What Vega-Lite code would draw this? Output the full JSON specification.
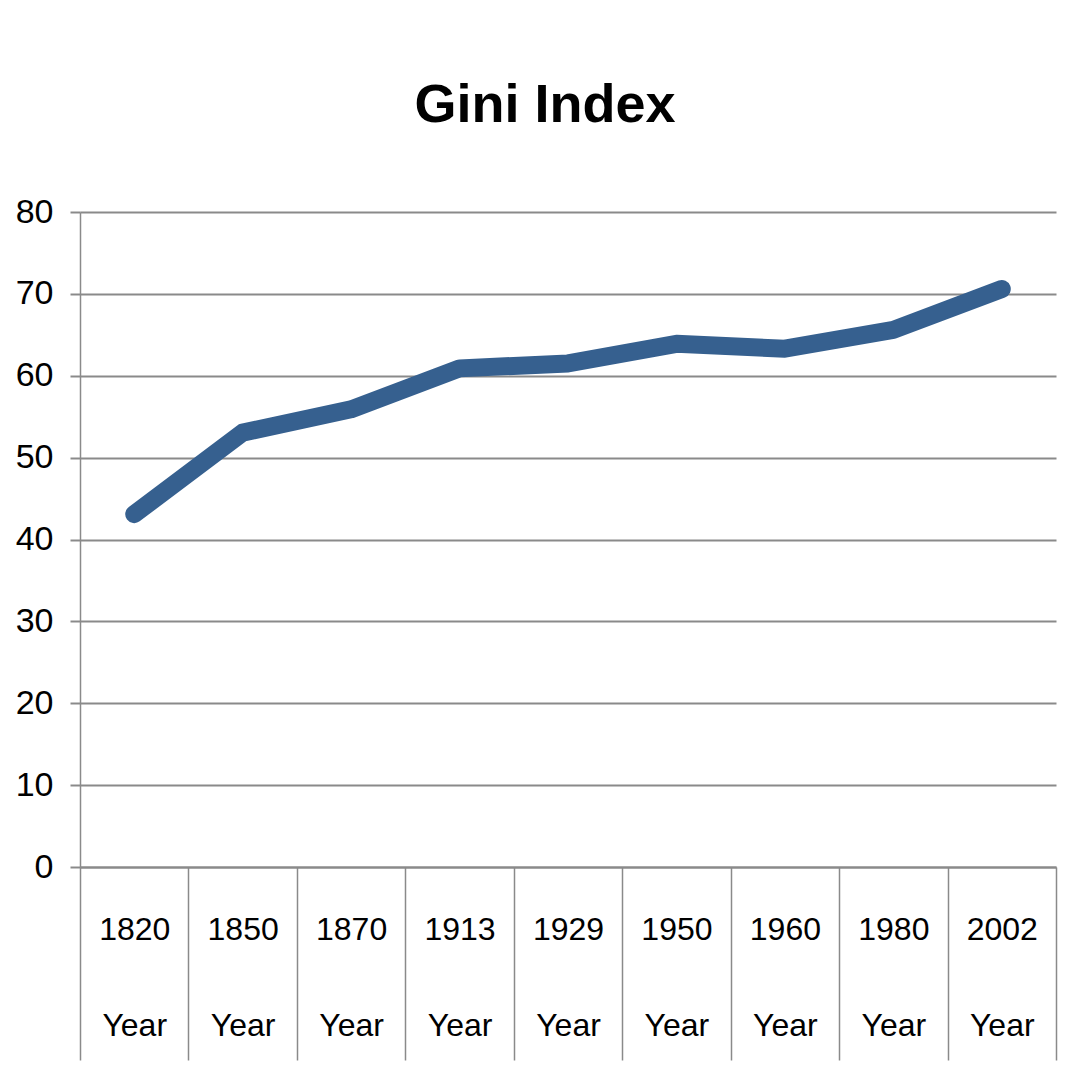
{
  "$schema": "https://vega.github.io/schema/vega-lite/v6.json",
  "autosize": "none",
  "width": 976,
  "height": 655,
  "padding": {"left": 80, "top": 212, "right": 31, "bottom": 218},
  "background": "white",
  "title": {
    "text": "Gini Index",
    "fontSize": 54,
    "fontWeight": "bold",
    "font": "Liberation Sans, Arial, sans-serif",
    "color": "black",
    "anchor": "middle",
    "dx": -23,
    "offset": 62
  },
  "data": {
    "values": [
      {"year": "1820", "gini": 43.1},
      {"year": "1850", "gini": 53.05},
      {"year": "1870", "gini": 55.9},
      {"year": "1913", "gini": 60.9},
      {"year": "1929", "gini": 61.5},
      {"year": "1950", "gini": 63.9},
      {"year": "1960", "gini": 63.3},
      {"year": "1980", "gini": 65.6},
      {"year": "2002", "gini": 70.6}
    ]
  },
  "mark": {
    "type": "line",
    "color": "#36608F",
    "strokeWidth": 18,
    "strokeCap": "round",
    "strokeJoin": "round"
  },
  "encoding": {
    "x": {
      "field": "year",
      "type": "ordinal",
      "sort": null,
      "bandPosition": 0.5,
      "scale": {"type": "band", "paddingInner": 0, "paddingOuter": 0},
      "axis": {
        "title": null,
        "labelAngle": 0,
        "tickBand": "extent",
        "tickSize": 193,
        "tickColor": "#8a8a8a",
        "tickWidth": 1.5,
        "domainColor": "#8a8a8a",
        "domainWidth": 2,
        "labelFontSize": 32,
        "labelColor": "black",
        "labelFont": "Liberation Sans, Arial, sans-serif",
        "labelLineHeight": 96,
        "labelPadding": -146,
        "labelExpr": "datum.label ? [datum.label, 'Year'] : ''",
        "grid": false
      }
    },
    "y": {
      "field": "gini",
      "type": "quantitative",
      "scale": {"domain": [0, 80]},
      "axis": {
        "title": null,
        "values": [0, 10, 20, 30, 40, 50, 60, 70, 80],
        "grid": true,
        "gridColor": "#8a8a8a",
        "gridWidth": 2,
        "tickSize": 10,
        "tickColor": "#8a8a8a",
        "tickWidth": 2,
        "domainColor": "#8a8a8a",
        "domainWidth": 1.5,
        "labelFontSize": 34,
        "labelColor": "black",
        "labelFont": "Liberation Sans, Arial, sans-serif",
        "labelPadding": 17
      }
    }
  },
  "config": {
    "view": {"stroke": null}
  }
}
